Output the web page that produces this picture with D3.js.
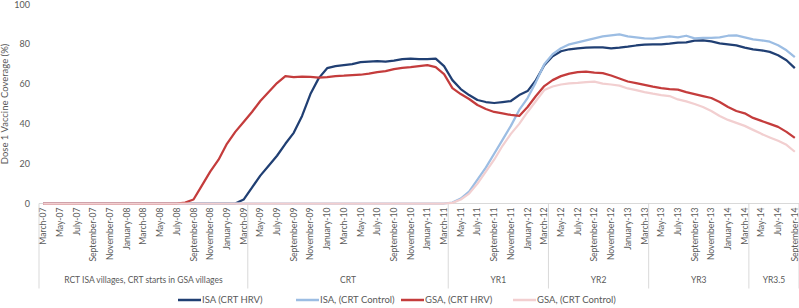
<!DOCTYPE html>
<html>
<head>
<meta charset="utf-8">
<script src="https://cdn.jsdelivr.net/npm/d3@7"></script>
<style>
  body { margin: 0; background: #fff; }
  text { font-family: Lato, "Open Sans", sans-serif; fill: #595959; }
</style>
</head>
<body>
<div id="wrapper"></div>
<script>
// Month categories, March 2007 to September 2014
const monthNames = ["January", "February", "March", "April", "May", "June", "July",
  "August", "September", "October", "November", "December"];
const months = [];
for (let y = 2007; y <= 2014; y++) {
  for (let m = 0; m < 12; m++) {
    if (y === 2007 && m < 2) continue;
    if (y === 2014 && m > 8) continue;
    months.push(`${monthNames[m]}-${String(y).slice(2)}`);
  }
}

// Outer category level and how many months each covers
const groupNames = ["RCT ISA villages, CRT starts in GSA villages", "CRT", "YR1", "YR2", "YR3", "YR3.5"];
const groupMonths = [25, 24, 12, 12, 12, 6];

const yTicks = [0, 20, 40, 60, 80, 100];

const seriesNames = ["ISA (CRT HRV)", "ISA, (CRT Control)", "GSA, (CRT HRV)", "GSA, (CRT Control)"];
const seriesColors = ["#203f73", "#9cbde3", "#c43c3c", "#f2cfd0"];

// Dose 1 coverage (%), one value per month
const isaHrv = [
  0, 0, 0, 0, 0, 0, 0, 0, 0, 0, 0, 0, 0, 0, 0, 0, 0, 0, 0, 0, 0, 0, 0, 0,
  2, 8, 14, 19, 24, 30, 35.5, 44, 55, 63, 68, 69, 69.5, 70, 71, 71.3, 71.5, 71.3, 71.8, 72.6, 72.8, 72.6, 72.5, 72.8,
  69, 62, 57.5, 54.5, 52, 51, 50.5, 51, 51.5, 54.5, 56.5, 62,
  69.5, 74, 76.5, 77.5, 78, 78.3, 78.5, 78.4, 78, 78.3, 78.8, 79.4,
  79.8, 80, 80, 80.3, 80.8, 81, 81.8, 82, 81.5, 80.5, 80, 79.5,
  78.3, 77.5, 77, 76.2, 74.5, 72, 68
];
const isaControl = [
  0, 0, 0, 0, 0, 0, 0, 0, 0, 0, 0, 0, 0, 0, 0, 0, 0, 0, 0, 0, 0, 0, 0, 0,
  0, 0, 0, 0, 0, 0, 0, 0, 0, 0, 0, 0, 0, 0, 0, 0, 0, 0, 0, 0, 0, 0, 0, 0,
  0, 0.5, 2.5, 6, 12, 18, 25, 32, 39, 47, 53, 61,
  70, 75, 78, 80, 81, 82, 83, 84, 84.5, 85, 84, 83.5,
  83, 82.8, 83.5, 84, 83.5, 84.3, 83, 83.2, 83.2, 83.5, 84.3, 84.5,
  83.5, 82.5, 82, 81.3, 79.5, 77, 73.5
];
const gsaHrv = [
  0, 0, 0, 0, 0, 0, 0, 0, 0, 0, 0, 0, 0, 0, 0, 0, 0, 0.5, 2, 9, 16, 22, 30, 36,
  41, 46, 51.5, 56, 60.5, 64, 63.5, 63.8, 63.6, 63.3, 63.5, 64, 64.2, 64.5, 64.7, 65.3, 66, 66.5, 67.5, 68.2, 68.5, 69, 69.5, 68.5,
  65, 58, 55, 52.5, 49.5, 47.5, 46, 45.3, 44.5, 44, 48.5, 54,
  59, 62, 64, 65.3, 66, 66.3, 65.8, 65.5, 64.3, 62.8, 61.3, 60.5,
  59.6, 58.7, 58, 57.5, 57.2, 56, 55, 54, 53, 51, 48.5, 46.5,
  45.3, 43, 41.5, 40, 38.5, 36, 33
];
const gsaControl = [
  0, 0, 0, 0, 0, 0, 0, 0, 0, 0, 0, 0, 0, 0, 0, 0, 0, 0, 0, 0, 0, 0, 0, 0,
  0, 0, 0, 0, 0, 0, 0, 0, 0, 0, 0, 0, 0, 0, 0, 0, 0, 0, 0, 0, 0, 0, 0, 0,
  0, 0.3, 2, 5, 10, 16, 22, 29, 35, 40, 46, 51.5,
  57, 58.8, 59.8, 60.4, 60.6, 61, 61.2, 60.2, 59.8, 59.2, 57.8, 57,
  56, 55.2, 54.5, 54, 52.3, 51.3, 50, 48.5, 46.5, 44, 42, 40.5,
  39, 37, 35, 33.2, 31.5, 29.5, 26
];
const seriesValues = [isaHrv, isaControl, gsaHrv, gsaControl];

const width = 799;
const height = 308;
const margin = { top: 4.5, right: 0, bottom: 104.5, left: 39 };
const plotBottom = height - margin.bottom;

const svg = d3.select("#wrapper")
  .append("svg")
    .attr("width", width)
    .attr("height", height);

const x = d3.scaleBand()
  .domain(months)
  .range([margin.left, width - margin.right]);
const xc = d => x(d) + x.bandwidth() / 2;

const y = d3.scaleLinear()
  .domain([0, 100])
  .range([plotBottom, margin.top]);

// Y axis labels, no axis line
svg.append("g")
  .selectAll("text")
  .data(yTicks)
  .join("text")
    .attr("x", 30)
    .attr("y", d => y(d))
    .attr("dy", "0.35em")
    .attr("text-anchor", "end")
    .style("font-size", "9px")
    .text(d => d);

svg.append("text")
  .attr("transform", `translate(8, ${(margin.top + plotBottom) / 2}) rotate(-90)`)
  .attr("text-anchor", "middle")
  .style("font-size", "9.5px")
  .text("Dose 1 Vaccine Coverage (%)");

// X axis line
svg.append("line")
  .attr("x1", margin.left)
  .attr("x2", width)
  .attr("y1", plotBottom)
  .attr("y2", plotBottom)
  .attr("stroke", "#d9d9d9");

// Month labels, every second month
svg.append("g")
  .selectAll("text")
  .data(months.filter((d, i) => i % 2 === 0))
  .join("text")
    .attr("transform", d => `translate(${xc(d)}, ${plotBottom + 4}) rotate(-90)`)
    .attr("text-anchor", "end")
    .attr("dy", "0.35em")
    .style("font-size", "8.6px")
    .text(d => d);

// Group separators and labels
let startIdx = 0;
const separators = [months[0]];
const groupCentres = [];
groupMonths.forEach(n => {
  const first = months[startIdx];
  const last = months[startIdx + n - 1];
  groupCentres.push((x(first) + x(last) + x.bandwidth()) / 2);
  startIdx += n;
  separators.push(last);
});

svg.append("g")
  .selectAll("line")
  .data(separators)
  .join("line")
    .attr("x1", (d, i) => i === 0 ? x(d) : x(d) + x.bandwidth())
    .attr("x2", (d, i) => i === 0 ? x(d) : x(d) + x.bandwidth())
    .attr("y1", plotBottom)
    .attr("y2", plotBottom + 85)
    .attr("stroke", "#d9d9d9");

svg.append("g")
  .selectAll("text")
  .data(groupNames)
  .join("text")
    .attr("x", (d, i) => groupCentres[i])
    .attr("y", plotBottom + 79)
    .attr("text-anchor", "middle")
    .style("font-size", "8.5px")
    .text(d => d);

// Series lines
const line = d3.line()
  .x((d, i) => xc(months[i]))
  .y(d => y(d));

svg.append("g")
  .selectAll("path")
  .data(seriesValues)
  .join("path")
    .attr("d", line)
    .attr("fill", "none")
    .attr("stroke", (d, i) => seriesColors[i])
    .attr("stroke-width", 2.25)
    .attr("stroke-linejoin", "round");

// Legend
const legendY = 300;
const legendTextX = [202, 320, 425, 537];
const legend = svg.append("g")
  .selectAll("g")
  .data(seriesNames)
  .join("g")
    .attr("transform", (d, i) => `translate(${legendTextX[i]}, ${legendY})`);
legend.append("line")
  .attr("x1", -24)
  .attr("x2", -1)
  .attr("stroke", (d, i) => seriesColors[i])
  .attr("stroke-width", 2.5);
legend.append("text")
  .attr("dy", "0.35em")
  .style("font-size", "9.5px")
  .text(d => d);
</script>
</body>
</html>
